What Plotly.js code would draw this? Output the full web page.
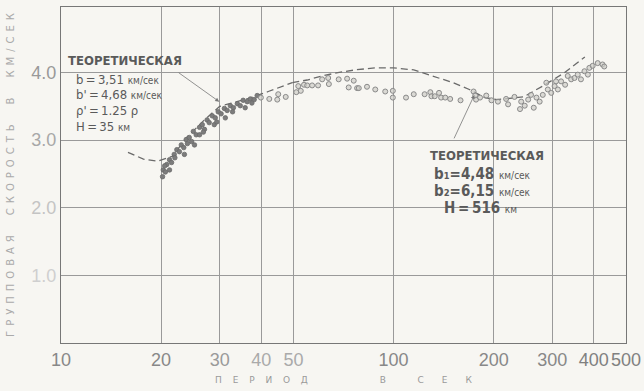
<!DOCTYPE html>
<html><head><meta charset="utf-8">
<script src="https://cdn.plot.ly/plotly-3.0.1.min.js"></script>
<style>html,body{margin:0;padding:0;background:#f7f6f2;}</style>
</head><body>
<div id="chart" style="width:644px;height:391px;"></div>
<script>
// Observed group velocities (period s, velocity km/s)
const obsPeriodA = [20.2,20.3,20.6,20.8,21.2,21.5,21.9,22.3,22.7,23.0,23.4,23.8,24.3,24.7,25.0,25.5,26.1,26.6,27.0,27.5,27.9,28.5,29.1,29.7,30.3,31.0,31.6,32.3,33.0,33.9,34.6,35.3,36.3,37.1,38.1,38.9,21.2,23.5,25.2,26.1,28.9,31.2,35.8,20.5,22.0,24.0,26.8,29.4,32.8,37.5];
const obsVelA    = [2.46,2.56,2.53,2.64,2.71,2.67,2.79,2.86,2.83,2.93,2.89,3.01,3.04,2.98,3.13,3.08,3.19,3.23,3.16,3.30,3.26,3.36,3.33,3.42,3.39,3.47,3.44,3.51,3.48,3.54,3.51,3.59,3.57,3.61,3.60,3.66,2.56,2.79,2.93,3.08,3.23,3.33,3.48,2.62,2.74,2.95,3.12,3.27,3.42,3.55];
const obsPeriodB = [39.9,42.3,44.7,45.0,47.4,51.0,52.6,51.7,53.8,55.0,56.9,59.3,61.0,63.6,63.9,68.4,72.5,73.3,75.9,77.7,78.6,83.2,88.1,94.4,99.5,99.5,109,115,124,129,130,133,137,139,143,148,159,174,176,177,182,190,197,206,218,221,231,240,242,248,254,259,264,269,275,281,288,291,298,305,308,312,319,328,334,342,350,358,366,375,384,388,397,411,425,430];
const obsVelB    = [3.63,3.61,3.60,3.68,3.64,3.71,3.73,3.80,3.82,3.81,3.81,3.81,3.90,3.92,3.83,3.90,3.91,3.78,3.88,3.77,3.77,3.79,3.75,3.72,3.73,3.63,3.63,3.68,3.68,3.71,3.65,3.65,3.70,3.63,3.63,3.61,3.59,3.72,3.66,3.60,3.63,3.66,3.59,3.57,3.61,3.53,3.64,3.46,3.57,3.51,3.60,3.67,3.48,3.63,3.57,3.67,3.85,3.75,3.70,3.80,3.87,3.75,3.87,3.82,3.95,3.90,3.92,3.97,3.90,4.02,3.97,4.07,4.10,4.14,4.12,4.09];

// Theoretical curves
const theoryPeriodA = [15.9,17.7,19.5,21.6,24,27,30,33,36.8,42,49.6];
const theoryVelA    = [2.82,2.72,2.69,2.76,3.05,3.30,3.50,3.56,3.62,3.72,3.85];
const theoryPeriodB = [49.6,55,61,68,76.8,88,100,115,129,151,169,188,205,246,283,327,376];
const theoryVelB    = [3.85,3.89,3.95,4.00,4.04,4.07,4.07,4.04,3.96,3.85,3.75,3.63,3.60,3.64,3.81,4.00,4.23];

// Axis ticks
const xTickVals = [10,20,30,40,50,100,200,300,400,500];
const xTickText = ['10','20','30','40','50','100','200','300','400','500'];
const yTickVals = [1,2,3,4];
const yTickText = ['1.0','2.0','3.0','4.0'];

// Arrow targets (period, velocity)
const arrowA = [29.9, 3.57];
const arrowB = [175, 3.67];

const xFade = ['#888','#888','#9a9a9a','#aaa','#aaa','#888','#888','#888','#808080','#808080'];
const yFade = ['#cfcfcf','#c4c4c4','#a8a8a8','#999'];

const paper = '#f7f6f2';
const ink = '#5a5a5a';
const cond = '"DejaVu Sans Condensed", "DejaVu Sans", sans-serif';

const traces = [
  {x: theoryPeriodA, y: theoryVelA, mode:'lines', line:{color:'#6a6a6a', width:1.3, dash:'7px,4px'}, hoverinfo:'skip'},
  {x: theoryPeriodB, y: theoryVelB, mode:'lines', line:{color:'#6a6a6a', width:1.3, dash:'7px,4px'}, hoverinfo:'skip'},
  {x: obsPeriodA, y: obsVelA, mode:'markers', marker:{size:4.5, color:'#7c7c7c', line:{color:'#6a6a6a', width:0.8}}},
  {x: obsPeriodB, y: obsVelB, mode:'markers', marker:{size:5, color:'rgba(205,205,200,0.7)', line:{color:'#8a8a8a', width:1}}}
];

function lab(txt, px, py, size, bold) {
  return {
    text: txt, xref:'paper', yref:'paper',
    x: (px-61)/565, y: (343-py)/336, xanchor:'left', yanchor:'middle',
    showarrow:false, font:{family:cond, size:size, color:ink, weight: bold ? 'bold' : 'normal'},
    borderpad: 0
  };
}
const small = s => '<span style="font-size:10px;font-weight:normal">' + s + '</span>';
const T = '\u2009';

const annotations = [
  lab('ТЕОРЕТИЧЕСКАЯ', 67, 60, 13, true),
  lab('b'+T+'='+T+'3,51 ' + small('км/сек'), 75, 79, 13, false),
  lab("b'"+T+'='+T+'4,68 ' + small('км/сек'), 75, 95, 13, false),
  lab("ρ'"+T+'='+T+'1.25 ρ', 75, 110, 13, false),
  lab('H'+T+'='+T+'35 ' + small('км'), 75, 127, 13, false),
  lab('ТЕОРЕТИЧЕСКАЯ', 429, 155, 13, true),
  lab('b\u2081=4,48 ' + small('км/сек'), 433, 174, 15, true),
  lab('b\u2082=6,15 ' + small('км/сек'), 433, 191, 15, true),
  lab('H'+T+'='+T+'516 ' + small('км'), 443, 208, 15, true),
  {x: Math.log10(arrowA[0]), y: arrowA[1], xref:'x', yref:'y', text:'', showarrow:true,
   arrowhead:2, arrowsize:1, arrowwidth:0.8, arrowcolor:'#777', ax:-42, ay:-30},
  {x: Math.log10(arrowB[0]), y: arrowB[1], xref:'x', yref:'y', text:'', showarrow:true,
   arrowhead:2, arrowsize:1, arrowwidth:0.8, arrowcolor:'#777', ax:-21, ay:45}
];

function box(x0, y0, x1, y1) {
  return {type:'rect', xref:'paper', yref:'paper', layer:'between',
    x0:(x0-61)/565, x1:(x1-61)/565, y0:(343-y1)/336, y1:(343-y0)/336,
    fillcolor: paper, line:{width:0}};
}

const layout = {
  width:644, height:391,
  margin:{l:61, r:18, t:7, b:48},
  paper_bgcolor: paper, plot_bgcolor: paper,
  showlegend:false,
  font:{family:'"Liberation Sans", Arial, sans-serif', color:'#888'},
  shapes:[ box(64,48,182,136), box(427,146,550,200), box(437,200,532,216) ],
  xaxis:{
    type:'log', range:[1, Math.log10(500)],
    tickvals:xTickVals, ticktext:xTickText.map((t,i)=>'<span style="color:'+xFade[i]+'">'+t+'</span>'),
    tickfont:{size:18, color:'#888'}, ticks:'', ticklen:0,
    showgrid:true, gridcolor:'#9a9a9a', gridwidth:1,
    showline:true, linecolor:'#777', linewidth:1.2, mirror:true, zeroline:false,
    title:{text:'П\u2003\u2009Е\u2003\u2009Р\u2003\u2009И\u2003\u2009О\u2003\u2009Д\u2003\u2003\u2003\u2003\u2003\u2003\u2003\u2003В\u2003\u2003\u2003\u2002С\u2003\u2003Е\u2003\u2003К',
           font:{size:9, color:'#9a9a9a', family:'"DejaVu Sans", sans-serif'}, standoff:8}
  },
  yaxis:{
    range:[0, 4.97],
    tickvals:yTickVals, ticktext:yTickText.map((t,i)=>'<span style="color:'+yFade[i]+'">'+t+'</span>'),
    tickfont:{size:18, color:'#999'}, ticks:'', ticklen:0,
    showgrid:true, gridcolor:'#9a9a9a', gridwidth:1,
    showline:true, linecolor:'#777', linewidth:1.2, mirror:true, zeroline:false,
    title:{text:'Г\u2002Р\u2002У\u2002П\u2002П\u2002О\u2002В\u2002А\u2002Я\u2003\u2003С\u2002К\u2002О\u2002Р\u2002О\u2002С\u2002Т\u2002Ь\u2003\u2003В\u2003\u2003К\u2002М\u2002/\u2002С\u2002Е\u2002К',
           font:{size:10, color:'#aaa', family:'"DejaVu Sans", sans-serif'}, standoff:14}
  },
  annotations: annotations
};

Plotly.newPlot('chart', traces, layout, {displayModeBar:false, staticPlot:true});
</script>
</body></html>
